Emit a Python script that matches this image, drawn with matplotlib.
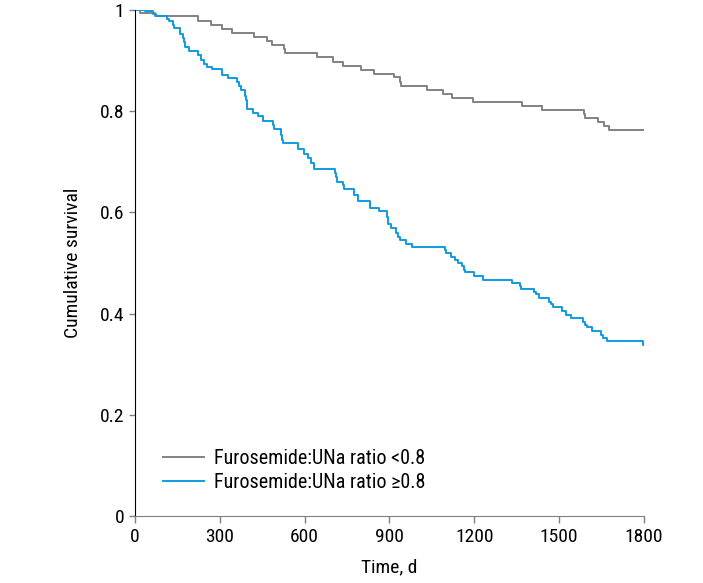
import numpy as np
import matplotlib
matplotlib.use("Agg")
from matplotlib import pyplot as plt
from matplotlib.ticker import FuncFormatter

plt.rcParams['font.family'] = ['Roboto Condensed', 'DejaVu Sans']

# Kaplan-Meier steps (time in days, survival after the step)
low_t = [0, 18, 70, 222, 269, 306, 342, 421, 466, 483, 527, 530, 642, 699, 734,
         798, 845, 916, 937, 941, 1031, 1088, 1120, 1196, 1367, 1438, 1588,
         1592, 1638, 1658, 1677, 1800]
low_s = [1.0, 0.994, 0.988, 0.979, 0.971, 0.963, 0.955, 0.947, 0.939, 0.931,
         0.923, 0.915, 0.906, 0.898, 0.890, 0.882, 0.874, 0.867, 0.858, 0.850,
         0.842, 0.834, 0.826, 0.818, 0.810, 0.803, 0.795, 0.787, 0.779, 0.771,
         0.762, 0.762]

high_t = [0, 35, 65, 74, 114, 121, 136, 139, 159, 171, 173, 176, 192, 224, 233,
          245, 256, 274, 306, 330, 362, 369, 376, 389, 392, 395, 397, 418, 436,
          454, 487, 490, 518, 521, 525, 575, 597, 613, 622, 632, 707, 712, 715,
          736, 740, 775, 787, 830, 863, 892, 895, 905, 923, 931, 937, 958, 978,
          1098, 1100, 1118, 1131, 1142, 1156, 1163, 1168, 1198, 1230, 1334, 1363,
          1366, 1411, 1418, 1429, 1464, 1471, 1479, 1511, 1524, 1541, 1585, 1590,
          1597, 1618, 1647, 1655, 1671, 1797, 1800]
high_s = [1.0, 0.997, 0.992, 0.988, 0.982, 0.978, 0.971, 0.964, 0.952, 0.944,
          0.936, 0.927, 0.919, 0.910, 0.901, 0.894, 0.888, 0.883, 0.872, 0.865,
          0.857, 0.850, 0.842, 0.830, 0.822, 0.814, 0.805, 0.797, 0.791, 0.780,
          0.772, 0.764, 0.753, 0.743, 0.737, 0.725, 0.715, 0.707, 0.698, 0.686,
          0.677, 0.669, 0.660, 0.654, 0.647, 0.634, 0.622, 0.609, 0.603, 0.590,
          0.576, 0.570, 0.560, 0.552, 0.545, 0.538, 0.531, 0.525, 0.519, 0.512,
          0.506, 0.500, 0.493, 0.487, 0.482, 0.474, 0.467, 0.461, 0.455, 0.449,
          0.443, 0.438, 0.430, 0.423, 0.418, 0.413, 0.405, 0.398, 0.391, 0.384,
          0.378, 0.373, 0.365, 0.358, 0.352, 0.345, 0.337, 0.337]

labels = ["Furosemide:UNa ratio <0.8", "Furosemide:UNa ratio \u22650.8"]
x_ticks = [0, 300, 600, 900, 1200, 1500, 1800]
y_ticks = [0, 0.2, 0.4, 0.6, 0.8, 1.0]

fig = plt.figure(figsize=(7.03, 5.83), dpi=100)
ax = fig.add_axes([0.192, 0.115, 0.724, 0.868])

ax.step(low_t, low_s, where='post', color='#828282', lw=1.4, label=labels[0])
ax.step(high_t, high_s, where='post', color='#0e9be0', lw=1.4, label=labels[1])

ax.set_xlim(0, 1800)
ax.set_ylim(0, 1.0)
ax.set_xticks(x_ticks)
ax.set_yticks(y_ticks)
ax.yaxis.set_major_formatter(FuncFormatter(lambda v, p: "0" if v == 0 else ("1" if v == 1 else "%.1f" % v)))

for s in ['top', 'right']:
    ax.spines[s].set_visible(False)
ax.spines['left'].set_color('black')
ax.spines['bottom'].set_color('#808080')
ax.tick_params(axis='both', colors='#808080', labelcolor='black', labelsize=14,
               length=5, width=1, direction='out')
ax.tick_params(axis='y', length=4)

ax.set_xlabel("Time, d", fontsize=14, labelpad=9)
ax.set_ylabel("Cumulative survival", fontsize=14, labelpad=13)

ax.legend(loc='lower left', bbox_to_anchor=(0.02, 0.012), frameon=False,
          fontsize=14.5, handlelength=2.0, handletextpad=0.5, labelspacing=0.25)

fig.savefig("out.png", dpi=100)
